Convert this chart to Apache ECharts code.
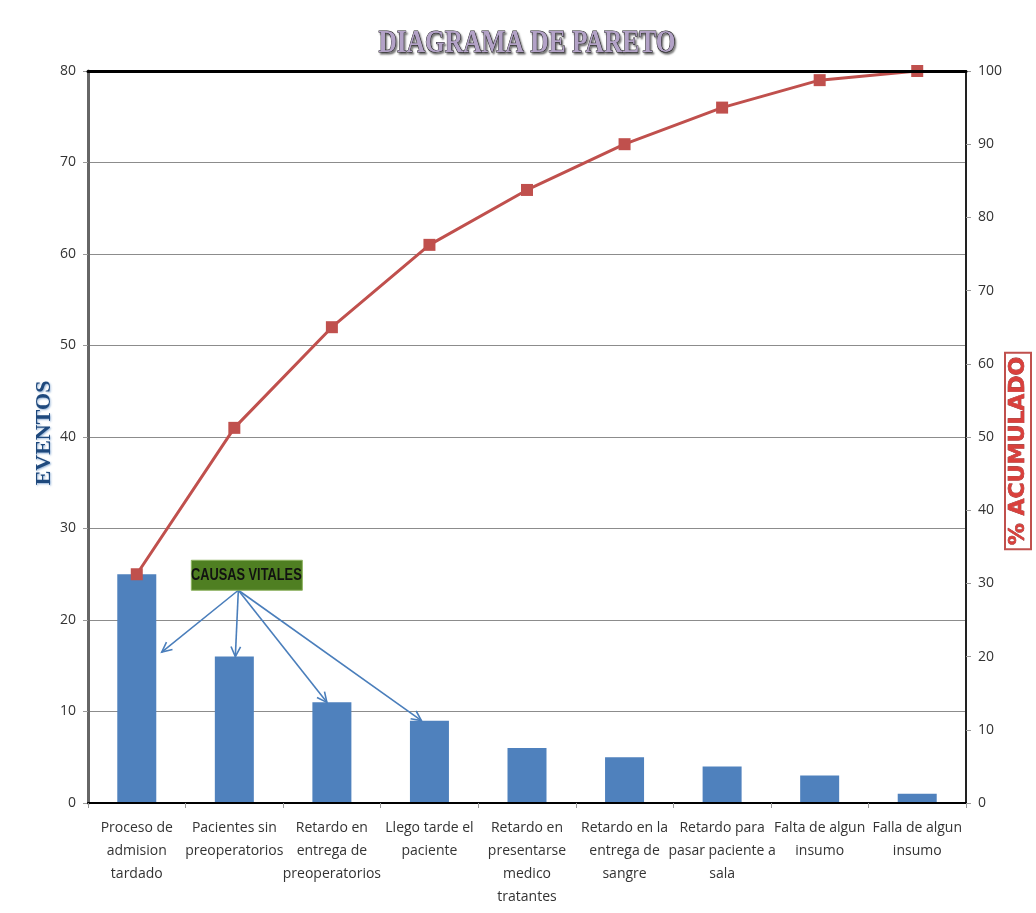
<!DOCTYPE html>
<html>
<head>
<meta charset="utf-8">
<script src="https://cdn.jsdelivr.net/npm/echarts@6/dist/echarts.min.js"></script>
<style>
  html, body { margin: 0; padding: 0; background: #fff; overflow: hidden; }
  #chart { width: 1036px; height: 913px; }
</style>
</head>
<body>
<div id="chart"></div>
<script>
// Causes (x axis), event counts (bars) and cumulative percentage (line)
const categories = [
  'Proceso de\nadmision\ntardado',
  'Pacientes sin\npreoperatorios',
  'Retardo en\nentrega de\npreoperatorios',
  'Llego tarde el\npaciente',
  'Retardo en\npresentarse\nmedico\ntratantes',
  'Retardo en la\nentrega de\nsangre',
  'Retardo para\npasar paciente a\nsala',
  'Falta de algun\ninsumo',
  'Falla de algun\ninsumo'
];
const eventos = [25, 16, 11, 9, 6, 5, 4, 3, 1];
const acumulado = [31.25, 51.25, 65, 76.25, 83.75, 90, 95, 98.75, 100];

// Arrows from the "CAUSAS VITALES" note: [category index, value at tip, x offset]
const vitalTargets = [[0, 16.5, 25], [1, 16, 1], [2, 11, -5], [3, 9, -8]];

const labelFont = "'Liberation Sans Narrow', 'Open Sans', sans-serif";
const chart = echarts.init(document.getElementById('chart'));

const option = {
  animation: false,
  grid: { left: 88, right: 70, top: 71, bottom: 110, containLabel: false, outerBoundsMode: 'none' },
  xAxis: [
    {
      type: 'category',
      data: categories,
      axisLine: { lineStyle: { color: '#000', width: 2 } },
      axisTick: { show: true, alignWithLabel: false, length: 5, lineStyle: { color: '#999' } },
      axisLabel: {
        interval: 0,
        color: '#333',
        fontFamily: labelFont,
        fontSize: 14,
        lineHeight: 23,
        margin: 14
      },
      z: 10
    },
    {
      type: 'category',
      data: categories,
      position: 'top',
      axisLine: { onZero: false, lineStyle: { color: '#000', width: 3 } },
      axisTick: { show: false },
      axisLabel: { show: false },
      z: 10
    }
  ],
  yAxis: [
    {
      type: 'value',
      min: 0,
      max: 80,
      interval: 10,
      name: 'EVENTOS',
      nameLocation: 'middle',
      nameRotate: 90,
      nameGap: 33,
      nameMoveOverlap: false,
      nameTextStyle: {
        fontFamily: "'Liberation Serif', serif",
        fontWeight: 'bold',
        fontSize: 22,
        color: '#1F497D',
        padding: [0, 0, 0, 8],
        textShadowColor: 'rgba(79,129,189,0.6)',
        textShadowBlur: 2,
        textShadowOffsetX: 1,
        textShadowOffsetY: 1
      },
      axisLine: { show: true, lineStyle: { color: '#666', width: 3 } },
      axisTick: { show: true, length: 5, lineStyle: { color: '#999' } },
      axisLabel: { color: '#333', fontFamily: labelFont, fontSize: 14, margin: 12 },
      splitLine: { lineStyle: { color: '#8c8c8c', width: 1 } }
    },
    {
      type: 'value',
      min: 0,
      max: 100,
      interval: 10,
      axisLine: { show: true, lineStyle: { color: '#222', width: 2 } },
      axisTick: { show: true, length: 5, lineStyle: { color: '#999' } },
      axisLabel: { color: '#333', fontFamily: labelFont, fontSize: 14, margin: 12 },
      splitLine: { show: false }
    }
  ],
  series: [
    {
      name: 'EVENTOS',
      type: 'bar',
      data: eventos,
      barWidth: 39,
      itemStyle: { color: '#4F81BD' },
      z: 2
    },
    {
      name: '% ACUMULADO',
      type: 'line',
      yAxisIndex: 1,
      data: acumulado,
      symbol: 'rect',
      symbolSize: 12,
      lineStyle: { color: '#C0504D', width: 3 },
      itemStyle: { color: '#C0504D' },
      z: 5
    }
  ]
};

chart.setOption(option);

// Open-headed arrow built from a shaft and a two-segment head
function arrow(from, to) {
  const dx = to[0] - from[0], dy = to[1] - from[1];
  const len = Math.hypot(dx, dy);
  const ux = dx / len, uy = dy / len;
  const head = 11, spread = 0.45;
  const a1 = [to[0] - head * (ux * Math.cos(spread) - uy * Math.sin(spread)),
              to[1] - head * (uy * Math.cos(spread) + ux * Math.sin(spread))];
  const a2 = [to[0] - head * (ux * Math.cos(spread) + uy * Math.sin(spread)),
              to[1] - head * (uy * Math.cos(spread) - ux * Math.sin(spread))];
  const style = { stroke: '#4A7EBB', lineWidth: 1.6, fill: null };
  return [
    { type: 'line', shape: { x1: from[0], y1: from[1], x2: to[0], y2: to[1] }, style, z: 20 },
    { type: 'polyline', shape: { points: [a1, to, a2] }, style, z: 20 }
  ];
}

const gridRect = chart.getModel().getComponent('grid').coordinateSystem.getRect();
const elements = [
  // Title in condensed outlined serif lettering
  {
    type: 'text',
    x: gridRect.x + gridRect.width / 2,
    y: 44,
    scaleX: 0.82,
    style: {
      text: 'DIAGRAMA DE PARETO',
      font: "bold 31px 'Liberation Serif', serif",
      fill: '#B3A2C7',
      stroke: '#1a1a1a',
      lineWidth: 1,
      align: 'center',
      verticalAlign: 'middle',
      textShadowColor: 'rgba(0,0,0,0.5)',
      textShadowBlur: 2,
      textShadowOffsetX: 1.5,
      textShadowOffsetY: 1.5
    },
    z: 30
  },
  // Right axis title in a framed box, reading bottom to top
  {
    type: 'text',
    x: gridRect.x + gridRect.width + 52,
    y: 451,
    rotation: Math.PI / 2,
    style: {
      text: '% ACUMULADO',
      font: "bold 22px 'DejaVu Sans', sans-serif",
      fill: '#D9403C',
      stroke: '#7a1010',
      lineWidth: 0.6,
      align: 'center',
      verticalAlign: 'middle',
      borderColor: '#C0504D',
      borderWidth: 2,
      padding: [3, 4, 1, 4]
    },
    z: 30
  }
];

// Note box and arrows pointing at the vital causes, placed from the axes' scales
const anchor = chart.convertToPixel({ xAxisIndex: 0, yAxisIndex: 0 }, [1, 25]);
const origin = [anchor[0] + 4, anchor[1] + 16];
elements.push(
  {
    type: 'rect',
    shape: { x: anchor[0] - 43, y: anchor[1] - 14, width: 111, height: 30 },
    style: { fill: '#4F7F22', stroke: '#8DB360', lineWidth: 1 },
    z: 21
  },
  {
    type: 'text',
    x: anchor[0] + 12,
    y: anchor[1] + 1,
    scaleX: 0.8,
    style: {
      text: 'CAUSAS VITALES',
      fill: '#111',
      font: "bold 16px 'Liberation Sans', sans-serif",
      align: 'center',
      verticalAlign: 'middle'
    },
    z: 22
  }
);
vitalTargets.forEach(([idx, val, off]) => {
  const p = chart.convertToPixel({ xAxisIndex: 0, yAxisIndex: 0 }, [idx, val]);
  elements.push(...arrow(origin, [p[0] + off, p[1]]));
});
chart.setOption({ graphic: { elements } });
</script>
</body>
</html>
